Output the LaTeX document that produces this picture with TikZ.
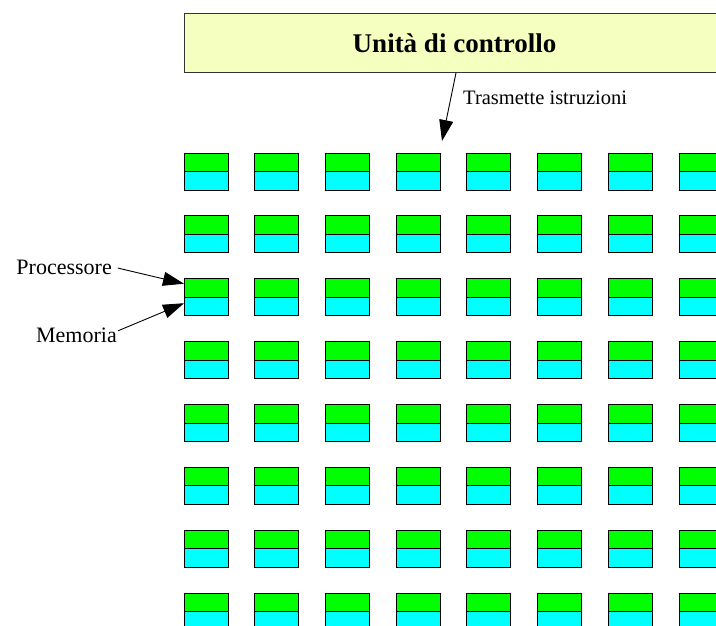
\documentclass[tikz,border=0pt]{standalone}
\usepackage{fontspec}
\setmainfont{Liberation Serif}
\usepackage{xcolor}
\definecolor{ctrlyellow}{RGB}{245,255,192}
\definecolor{procgreen}{RGB}{0,255,0}
\definecolor{memcyan}{RGB}{0,255,255}
\usetikzlibrary{positioning, arrows.meta}

\begin{document}
\begin{tikzpicture}[x=1pt,y=-1pt,
                  proc/.style={rectangle,draw=black,fill=procgreen,line width=0.8pt,inner sep=0pt,
                    outer sep=0pt,minimum width=44pt,minimum height=18.5pt},
                  mem/.style={proc,fill=memcyan},
                  ctrl/.style={rectangle,draw=black!80,fill=ctrlyellow,line width=0.8pt,
                    minimum width=541pt,minimum height=59.5pt,font=\fontsize{27}{30}\selectfont\bfseries},
                  lbl/.style={inner sep=1pt,font=\fontsize{22}{26}\selectfont},
                  post/.style={-{Triangle[length=21pt,width=14pt]},line width=0.9pt}
                  ]
                  \useasboundingbox (0,0) rectangle (716,625);
                  \clip (0,0) rectangle (716,625);

                  % processor grid
                  \foreach \i in {0,...,7}{
                    \foreach \j in {0,...,7}{
                      \node[proc,anchor=north west] (p-\i-\j) at ({184+70.7*\i},{153+62.86*\j}) {};
                      \node[mem] (m-\i-\j) [below=0pt of p-\i-\j] {};
                    }
                  }

                  \node[ctrl] (cu) at (454.5,42.75) {Unità di controllo};
                  \coordinate (cutip) at (442,141);
                  \draw[post] ([xshift=1.5pt]cu.south) -- (cutip);
                  \node[lbl,anchor=base west,font=\fontsize{20.5}{24}\selectfont] (trlabel) at (462,104)
                    {Trasmette istruzioni};

                  \node[lbl,anchor=base east] (proclabel) at (113,274) {Processore};
                  \draw[post,shorten <=5pt] (proclabel.east) -- ([yshift=-5pt]p-0-2.north west);
                  \node[lbl,anchor=base east] (memlabel) at (118,342) {Memoria};
                  \draw[post] ([yshift=4pt]memlabel.east) -- ([yshift=-6pt]m-0-2.north west);
                \end{tikzpicture}
\end{document}
